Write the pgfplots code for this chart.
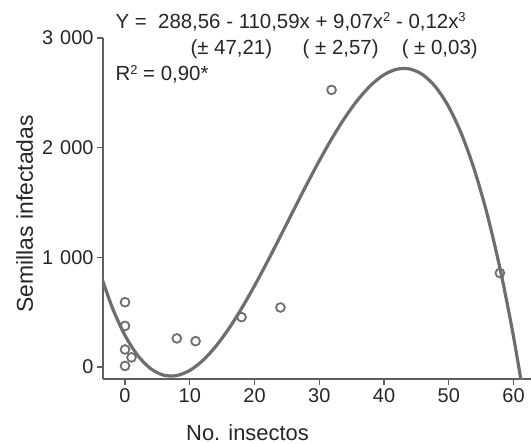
\documentclass[border=0pt]{standalone}
\usepackage{fontspec}
\setmainfont{Liberation Sans}
\usepackage{pgfplots}
\pgfplotsset{compat=1.18}
\definecolor{curvegray}{RGB}{110,110,110}
\definecolor{axgray}{RGB}{95,95,95}
\newcommand{\sups}[1]{\raisebox{0.62ex}{\fontsize{13}{14}\selectfont #1}}

\begin{document}
\begin{tikzpicture}
\begin{axis}[
  name=ax,
  scale only axis, width=428bp, height=341bp,
  xmin=-3.4, xmax=62.7, ymin=-109, ymax=3000,
  axis lines*=left,
  axis line style={axgray, line width=1.2bp},
  tick align=outside, major tick length=6bp,
  tick style={axgray, line width=1.1bp},
  xtick={0,10,...,60}, xticklabels={0,10,20,30,40,50,60},
  ytick={0,1000,2000,3000}, yticklabels={0,1\hspace{0.35em}000,2\hspace{0.35em}000,3\hspace{0.35em}000},
  tick label style={font=\fontsize{20}{23}\selectfont, text=black!85},
  xlabel={No. insectos}, ylabel={Semillas infectadas},
  label style={text=black!85},
  xlabel style={font=\fontsize{22}{25}\selectfont, at={(rel axis cs:0.3376,-0.1789)}, anchor=base},
  ylabel style={font=\fontsize{23}{26}\selectfont, at={(rel axis cs:-0.1636,0.484)}, anchor=base},
  clip mode=individual,
]
% fitted cubic, sampled
\addplot[curvegray, line width=3.2bp, smooth] coordinates {
  (-4,883.75) (-2,546.98) (0,288.56) (2,102.70) (4,-16.39) (6,-74.49)
  (8,-77.38) (10,-30.84) (12,59.34) (14,187.37) (16,347.47) (18,533.86)
  (20,740.76) (22,962.38) (24,1192.93) (26,1426.63) (28,1657.70)
  (30,1880.36) (32,2088.82) (34,2277.29) (36,2439.99) (38,2571.14)
  (40,2664.96) (42,2715.66) (44,2717.45) (46,2664.55) (48,2551.18)
  (50,2371.56) (52,2119.90) (54,1790.41) (56,1377.31) (58,874.82)
  (60,277.16) (62,-421.4)
};
% observations
\addplot[only marks, mark=o, mark size=4.4pt, curvegray,
  mark options={line width=1.8bp}] coordinates {
  (0,591) (0,375) (0,160) (1,88) (0,10) (8,261) (10.9,236)
  (18,455) (24,543) (31.9,2527) (57.9,857)
};
\node[anchor=base west, font=\fontsize{20.5}{24}\selectfont, text=black!85]
  at (axis cs:-2,3091) {Y =\ \ 288,56 - 110,59x + 9,07x\sups{2} - 0,12x\sups{3}};
\node[anchor=base west, font=\fontsize{20.5}{24}\selectfont, text=black!85]
  at (axis cs:9.58,2845) {(± 47,21)};
\node[anchor=base west, font=\fontsize{20.5}{24}\selectfont, text=black!85]
  at (axis cs:26.9,2845) {( ± 2,57)};
\node[anchor=base west, font=\fontsize{20.5}{24}\selectfont, text=black!85]
  at (axis cs:42.2,2845) {( ± 0,03)};
\node[anchor=base west, font=\fontsize{20.5}{24}\selectfont, text=black!85]
  at (axis cs:-2,2609) {R\sups{2} = 0,90*};
\end{axis}
\pgfresetboundingbox
\path[use as bounding box] ([xshift=-103bp,yshift=-65bp]ax.south west)
  rectangle ([yshift=38bp]ax.north east);
\end{tikzpicture}
\end{document}
